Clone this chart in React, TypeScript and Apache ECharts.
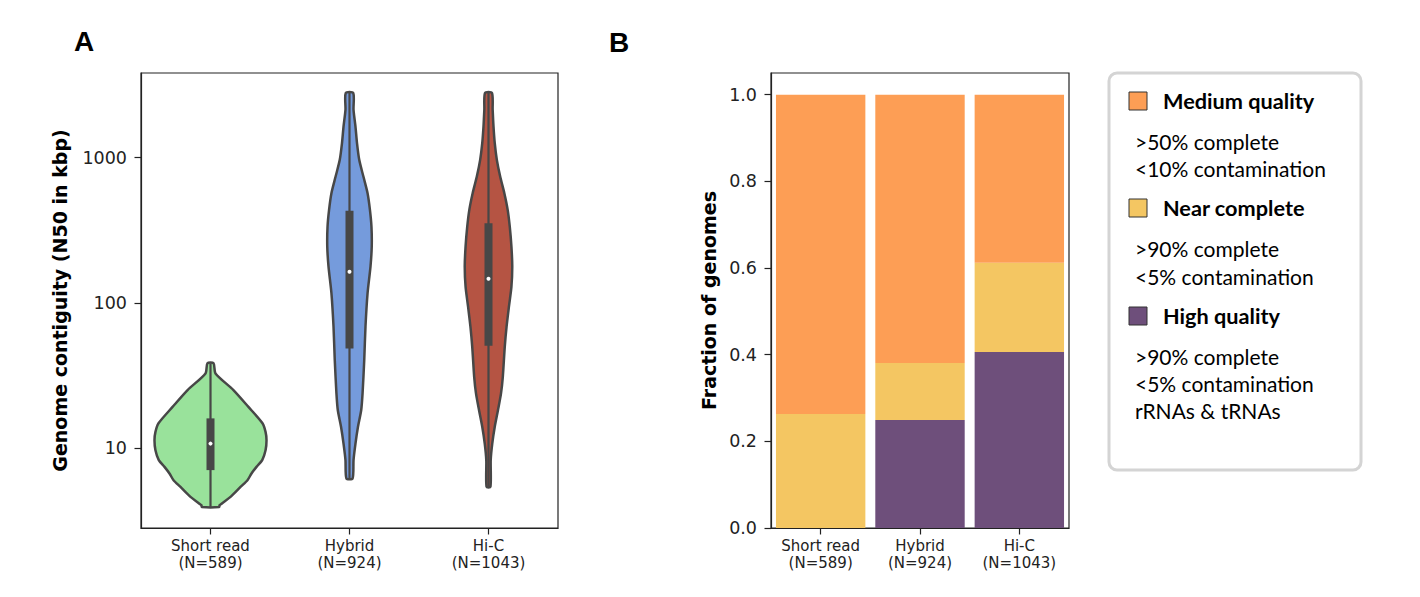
import React, { useEffect, useRef } from "react";
import * as echarts from "echarts";

// ---------- data ----------
const categories = ["Short read\n(N=589)", "Hybrid\n(N=924)", "Hi-C\n(N=1043)"];

// Violin profiles: N50 (kbp) from top to bottom, with half-width (fraction of category band)
const shortReadN50 = [38.5, 32.8, 25.2, 19.3, 14.9, 13.0, 11.4, 9.73, 8.31, 7.47, 6.73, 6.05, 5.44, 4.65, 4.07, 3.96];
const shortReadWidth = [0.022, 0.036, 0.165, 0.273, 0.374, 0.396, 0.403, 0.396, 0.372, 0.331, 0.295, 0.266, 0.216, 0.144, 0.065, 0.063];

const hybridN50 = [2775, 2128, 1633, 1256, 964, 740, 569, 437, 335, 244, 178, 117, 68.7, 40.5, 23.9, 18.3, 14.1, 10.8, 8.31, 6.22];
const hybridWidth = [0.027, 0.029, 0.043, 0.054, 0.07, 0.1, 0.13, 0.147, 0.158, 0.16, 0.151, 0.13, 0.115, 0.106, 0.094, 0.084, 0.061, 0.043, 0.029, 0.022];

const hicN50 = [2775, 2128, 1633, 1256, 964, 740, 569, 437, 335, 244, 178, 129.4, 94.3, 68.7, 50, 31.1, 23.9, 18.3, 14.1, 10.8, 8.31, 5.45];
const hicWidth = [0.025, 0.03, 0.036, 0.045, 0.06, 0.084, 0.114, 0.138, 0.153, 0.165, 0.171, 0.165, 0.147, 0.13, 0.117, 0.103, 0.09, 0.068, 0.045, 0.027, 0.016, 0.014];

// Inner box statistics (kbp)
const boxQ1 = [7.1, 48.7, 50.8];
const boxMedian = [10.8, 164, 147];
const boxQ3 = [16.1, 431, 354];
const whiskerLow = [3.96, 6.22, 5.45];
const whiskerHigh = [38.5, 2775, 2775];

const n50Ticks = [10, 100, 1000];

// Fraction of genomes per quality tier
const highQuality = [0.0, 0.249, 0.406];
const nearComplete = [0.263, 0.132, 0.206];
const mediumQuality = [0.737, 0.619, 0.388];
const fractionTicks = [0, 0.2, 0.4, 0.6, 0.8, 1.0];

const violinColors = ["#99e29b", "#759bdc", "#b55443"];
const tierColors = { high: "#6e4f7b", near: "#f4c662", medium: "#fd9e55" };

const profiles = [
  { vals: shortReadN50, w: shortReadWidth },
  { vals: hybridN50, w: hybridWidth },
  { vals: hicN50, w: hicWidth },
];

const AXIS_COLOR = "#222";
const OUTLINE = "#474747";

export default function App() {
  const ref = useRef<HTMLDivElement>(null);
  useEffect(() => {
    document.body.style.margin = "0";
    if (!ref.current) return;
    const chart = echarts.init(ref.current, undefined, { renderer: "svg" });

    const tickFont = { fontFamily: "DejaVu Sans", color: AXIS_COLOR };
    const xLabel = { ...tickFont, fontSize: 15, lineHeight: 16.5, margin: 10, interval: 0, hideOverlap: false };
    const tickStyle = { show: true, length: 6.5, lineStyle: { color: AXIS_COLOR, width: 1.2 } };
    const lineStyle = { show: true, lineStyle: { color: AXIS_COLOR, width: 1.2 } };
    const nameStyle = { fontFamily: "DejaVu Sans", fontWeight: "bold", fontSize: 19, color: "#000" };

    const option: any = {
      animation: false,
      backgroundColor: "#fff",
      grid: [
        { left: 141, top: 73, width: 417, height: 455, show: true, borderColor: AXIS_COLOR, borderWidth: 1.2, backgroundColor: "transparent" },
        { left: 771, top: 73, width: 298, height: 455, show: true, borderColor: AXIS_COLOR, borderWidth: 1.2, backgroundColor: "transparent" },
      ],
      xAxis: [
        {
          type: "category", gridIndex: 0, data: categories, boundaryGap: true,
          axisLine: lineStyle,
          axisTick: { ...tickStyle, alignWithLabel: true, interval: 0 },
          axisLabel: xLabel,
          splitLine: { show: false },
        },
        {
          type: "category", gridIndex: 1, data: categories, boundaryGap: true,
          axisLine: lineStyle,
          axisTick: { ...tickStyle, alignWithLabel: true, interval: 0 },
          axisLabel: xLabel,
          splitLine: { show: false },
        },
      ],
      yAxis: [
        {
          type: "log", gridIndex: 0, logBase: 10, min: 2.84, max: 3811,
          name: "Genome contiguity (N50 in kbp)", nameLocation: "middle", nameGap: 72,
          nameTextStyle: nameStyle,
          axisLine: lineStyle,
          axisTick: { ...tickStyle, customValues: n50Ticks },
          axisLabel: { ...tickFont, fontSize: 17.5, margin: 14, customValues: n50Ticks, formatter: (v: number) => String(Math.round(v)) },
          splitLine: { show: false },
        },
        {
          type: "value", gridIndex: 1, min: 0, max: 1.05,
          name: "Fraction of genomes", nameLocation: "middle", nameGap: 53,
          nameTextStyle: nameStyle,
          axisLine: lineStyle,
          axisTick: { ...tickStyle, customValues: fractionTicks },
          axisLabel: { ...tickFont, fontSize: 17.5, margin: 14, customValues: fractionTicks, formatter: (v: number) => v.toFixed(1) },
          splitLine: { show: false },
        },
      ],
      series: [
        {
          type: "custom",
          name: "N50",
          xAxisIndex: 0,
          yAxisIndex: 0,
          data: boxMedian.map((m, i) => [i, m]),
          encode: { x: 0, y: 1 },
          z: 3,
          renderItem: (params: any, api: any) => {
            const i = api.value(0);
            const prof = profiles[i];
            const c0 = api.coord([0, 10]);
            const c1 = api.coord([1, 10]);
            const band = c1[0] - c0[0];
            const right: number[][] = [];
            const left: number[][] = [];
            prof.vals.forEach((v: number, k: number) => {
              const p = api.coord([i, v]);
              const dx = prof.w[k] * band;
              right.push([p[0] + dx, p[1]]);
              left.unshift([p[0] - dx, p[1]]);
            });
            const cx = api.coord([i, boxMedian[i]])[0];
            const yq1 = api.coord([i, boxQ1[i]])[1];
            const yq3 = api.coord([i, boxQ3[i]])[1];
            const ymed = api.coord([i, boxMedian[i]])[1];
            const ylo = api.coord([i, whiskerLow[i]])[1];
            const yhi = api.coord([i, whiskerHigh[i]])[1];
            return {
              type: "group",
              children: [
                {
                  type: "polygon",
                  shape: { points: right.concat(left), smooth: 0.25 },
                  style: { fill: violinColors[i], stroke: OUTLINE, lineWidth: 2.5, lineJoin: "round" },
                },
                {
                  type: "line",
                  shape: { x1: cx, y1: yhi, x2: cx, y2: ylo },
                  style: { stroke: OUTLINE, lineWidth: 2.2 },
                },
                {
                  type: "rect",
                  shape: { x: cx - 4, y: yq3, width: 8, height: yq1 - yq3 },
                  style: { fill: OUTLINE },
                },
                {
                  type: "circle",
                  shape: { cx, cy: ymed, r: 2 },
                  style: { fill: "#fff" },
                },
              ],
            };
          },
        },
        {
          type: "bar", name: "High quality", xAxisIndex: 1, yAxisIndex: 1, stack: "q",
          data: highQuality, barWidth: "90%", itemStyle: { color: tierColors.high },
        },
        {
          type: "bar", name: "Near complete", xAxisIndex: 1, yAxisIndex: 1, stack: "q",
          data: nearComplete, barWidth: "90%", itemStyle: { color: tierColors.near },
        },
        {
          type: "bar", name: "Medium quality", xAxisIndex: 1, yAxisIndex: 1, stack: "q",
          data: mediumQuality, barWidth: "90%", itemStyle: { color: tierColors.medium },
        },
      ],
      graphic: [
        { type: "text", x: 84, y: 41, style: { text: "A", font: "bold 28px 'Liberation Sans'", fill: "#000", align: "center", verticalAlign: "middle" } },
        { type: "text", x: 619, y: 42, style: { text: "B", font: "bold 28px 'Liberation Sans'", fill: "#000", align: "center", verticalAlign: "middle" } },
        {
          type: "rect", x: 1109, y: 73, shape: { width: 252, height: 397, r: 8 },
          style: { fill: "#fff", stroke: "#d4d4d4", lineWidth: 3 },
        },
        { type: "rect", x: 1129, y: 92, shape: { width: 18, height: 18 }, style: { fill: tierColors.medium, stroke: "#333", lineWidth: 1 } },
        { type: "text", x: 1163, y: 101, style: { text: "Medium quality", font: "bold 21.7px Lato", fill: "#000", verticalAlign: "middle" } },
        { type: "text", x: 1135, y: 141, style: { text: ">50% complete", font: "21px Lato", fill: "#000", verticalAlign: "middle" } },
        { type: "text", x: 1135, y: 168, style: { text: "<10% contamination", font: "21px Lato", fill: "#000", verticalAlign: "middle" } },
        { type: "rect", x: 1129, y: 199, shape: { width: 18, height: 18 }, style: { fill: tierColors.near, stroke: "#333", lineWidth: 1 } },
        { type: "text", x: 1163, y: 208, style: { text: "Near complete", font: "bold 21.7px Lato", fill: "#000", verticalAlign: "middle" } },
        { type: "text", x: 1135, y: 248, style: { text: ">90% complete", font: "21px Lato", fill: "#000", verticalAlign: "middle" } },
        { type: "text", x: 1135, y: 276, style: { text: "<5% contamination", font: "21px Lato", fill: "#000", verticalAlign: "middle" } },
        { type: "rect", x: 1129, y: 307, shape: { width: 18, height: 18 }, style: { fill: tierColors.high, stroke: "#333", lineWidth: 1 } },
        { type: "text", x: 1163, y: 316, style: { text: "High quality", font: "bold 21.7px Lato", fill: "#000", verticalAlign: "middle" } },
        { type: "text", x: 1135, y: 356, style: { text: ">90% complete", font: "21px Lato", fill: "#000", verticalAlign: "middle" } },
        { type: "text", x: 1135, y: 383, style: { text: "<5% contamination", font: "21px Lato", fill: "#000", verticalAlign: "middle" } },
        { type: "text", x: 1135, y: 410, style: { text: "rRNAs & tRNAs", font: "21px Lato", fill: "#000", verticalAlign: "middle" } },
      ],
    };

    chart.setOption(option);
    return () => chart.dispose();
  }, []);

  return <div ref={ref} style={{ width: 1420, height: 597 }} />;
}
